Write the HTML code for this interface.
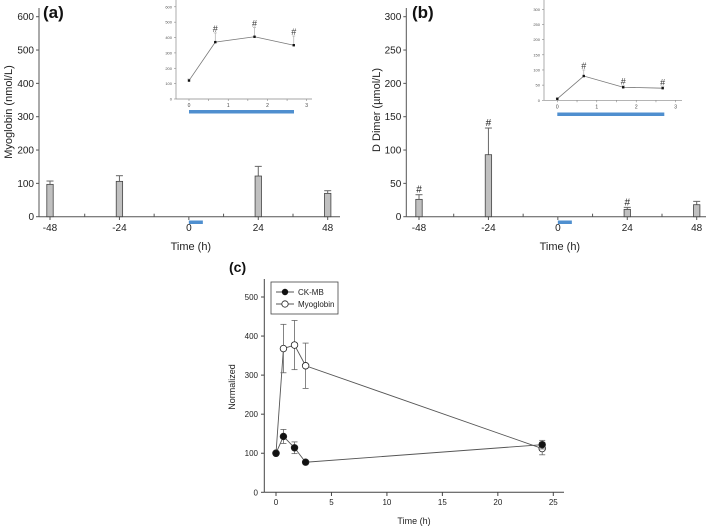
<!DOCTYPE html>
<html><head><meta charset="utf-8"><style>
html,body{margin:0;padding:0;background:#fff}
svg{display:block;font-family:"Liberation Sans",Arial,sans-serif}
</style></head><body>
<svg id="fig" width="708" height="528" viewBox="0 0 708 528" xmlns="http://www.w3.org/2000/svg"></svg>
<script>
// ----- data -----
const barTimes = [-48, -24, 24, 48];
const myoBars = [97, 106, 122, 70];
const myoBarErr = [10, 17, 29, 8];
const ddBars = [26, 93, 11, 18];
const ddBarErr = [7, 40, 3, 5];
const ddHash = [true, true, true, false];
const barTicks = [-48, -24, 0, 24, 48];
const myoYTicks = [0, 100, 200, 300, 400, 500, 600];
const ddYTicks = [0, 50, 100, 150, 200, 250, 300];
const insetTimes = [0, 0.67, 1.67, 2.67];
const insetMyo = [120, 370, 405, 350];
const insetMyoErr = [10, 60, 60, 60];
const insetDD = [5, 80, 43, 40];
const insetDDErr = [2, 20, 5, 5];
const insetHash = [false, true, true, true];
const insetXTicks = [0, 1, 2, 3];
const cTimes = [0, 0.67, 1.67, 2.67, 24];
const ckmb = [100, 143, 114, 77, 122];
const ckmbErr = [0, 18, 15, 4, 11];
const myoNorm = [100, 368, 377, 324, 112];
const myoNormErr = [0, 62, 63, 58, 16];
const cXTicks = [0, 5, 10, 15, 20, 25];
const cYTicks = [0, 100, 200, 300, 400, 500];

const svg = document.getElementById('fig');
const NS = 'http://www.w3.org/2000/svg';
function mk(tag, attrs, parent, text) {
  const e = document.createElementNS(NS, tag);
  for (const k in attrs) e.setAttribute(k, attrs[k]);
  if (text !== undefined) e.textContent = text;
  (parent || svg).appendChild(e);
  return e;
}
function lin(d0, d1, r0, r1) { return v => r0 + (v - d0) * (r1 - r0) / (d1 - d0); }

function barPanel(o) {
  const g = mk('g', {});
  
  
  const x = lin(-48, 48, o.x48, o.x48b), y = lin(0, o.yMax, 216.7, 16.7);
  // axes
  const ax = mk('line', {x1: o.ax0, y1: 216.7, x2: o.ax1, y2: 216.7, stroke: '#555', 'stroke-width': 1}, g);
   
  const ay = mk('line', {x1: o.ax0, y1: 216.7, x2: o.ax0, y2: 8, stroke: '#555', 'stroke-width': 1}, g);
   
  for (let t = -48; t <= 48; t += 12) {
    const major = barTicks.includes(t);
    mk('line', {x1: x(t), y1: 216.7, x2: x(t), y2: major ? 220 : 213.7, stroke: '#555'}, g);
  }
  barTicks.forEach(t => {
    const tl = mk('text', {x: x(t), y: 231, 'font-size': 10, 'text-anchor': 'middle', fill: '#222'}, g, String(t));
     
  });
  o.yTicks.forEach(t => {
    mk('line', {x1: o.ax0 - 3, y1: y(t), x2: o.ax0, y2: y(t), stroke: '#555'}, g);
    const tl = mk('text', {x: o.ax0 - 5, y: y(t) + 3.5, 'font-size': 10, 'text-anchor': 'end', fill: '#222'}, g, String(t));
     
  });
  o.vals.forEach((v, i) => {
    const cx = x(barTimes[i]);
    const top = y(v + o.err[i]);
    mk('line', {x1: cx, y1: y(v), x2: cx, y2: top, stroke: '#666'}, g);
    mk('line', {x1: cx - 3.5, y1: top, x2: cx + 3.5, y2: top, stroke: '#666'}, g);
    const b = mk('rect', {x: cx - 3.2, y: y(v), width: 6.4, height: 216.7 - y(v), fill: '#c0c0c0', stroke: '#444', 'stroke-width': 0.8}, g);
     
    if (o.hash && o.hash[i]) mk('text', {x: cx, y: top - 2, 'font-size': 10, 'text-anchor': 'middle', fill: '#222'}, g, '#');
  });
  const bl = mk('rect', {x: x(0), y: 220.5, width: 14, height: 3.5, fill: '#4f8fcf'}, g);
   
  const xt = mk('text', {x: x(0) + 2, y: 250, 'font-size': 11, 'text-anchor': 'middle', fill: '#222'}, g, 'Time (h)');
   
  const yt = mk('text', {x: 0, y: 0, 'font-size': 11, 'text-anchor': 'middle', fill: '#222', transform: `translate(${o.ytx},${o.yty}) rotate(-90)`}, g, o.ytitle);
   
  const pl = mk('text', {x: o.lx, y: 18, 'font-size': 17, 'font-weight': 'bold', fill: '#111'}, g, o.label);
   

  // inset
  const ig = mk('g', {}, g);
   
  const ix = lin(0, 3, o.ix0, o.ix3), iy = lin(0, o.yMax, o.iy0, o.iyTop);
  mk('line', {x1: o.iax, y1: o.iy0, x2: o.iax1, y2: o.iy0, stroke: '#888', 'stroke-width': 0.7}, ig);
  mk('line', {x1: o.iax, y1: o.iy0, x2: o.iax, y2: 0, stroke: '#888', 'stroke-width': 0.7}, ig);
  o.yTicks.forEach(t => {
    mk('line', {x1: o.iax - 2, y1: iy(t), x2: o.iax, y2: iy(t), stroke: '#888', 'stroke-width': 0.6}, ig);
    mk('text', {x: o.iax - 4, y: iy(t) + 1.5, 'font-size': 4, 'text-anchor': 'end', fill: '#555'}, ig, String(t));
  });
  for (let t = 0; t <= 3; t += 0.5) mk('line', {x1: ix(t), y1: o.iy0, x2: ix(t), y2: o.iy0 + 2, stroke: '#888', 'stroke-width': 0.6}, ig);
  insetXTicks.forEach(t => mk('text', {x: ix(t), y: o.iy0 + 8, 'font-size': 5, 'text-anchor': 'middle', fill: '#444'}, ig, String(t)));
  mk('polyline', {points: insetTimes.map((t, i) => ix(t) + ',' + iy(o.ivals[i])).join(' '), fill: 'none', stroke: '#777', 'stroke-width': 0.8}, ig);
  o.ivals.forEach((v, i) => {
    const cx = ix(insetTimes[i]), top = iy(v + o.ierr[i]);
    mk('line', {x1: cx, y1: iy(v), x2: cx, y2: top, stroke: '#aaa', 'stroke-width': 0.7}, ig);
    mk('line', {x1: cx - 1.5, y1: top, x2: cx + 1.5, y2: top, stroke: '#aaa', 'stroke-width': 0.7}, ig);
    const p = mk('rect', {x: cx - 1.2, y: iy(v) - 1.2, width: 2.4, height: 2.4, fill: '#111'}, ig);
     
    if (insetHash[i]) mk('text', {x: cx, y: top - 1, 'font-size': 9, 'text-anchor': 'middle', fill: '#333'}, ig, '#');
  });
  mk('rect', {x: o.ix0, y: o.iblueY, width: o.iblueW, height: 3.5, fill: '#4f8fcf'}, ig);
}

barPanel({name: 'panel-a-myoglobin', x48: 50, x48b: 327.7, ax0: 39, ax1: 340, yMax: 600, yTicks: myoYTicks,
  vals: myoBars, err: myoBarErr, ytitle: 'Myoglobin (nmol/L)', ytx: 12, yty: 112, label: '(a)', lx: 43,
  ix0: 189, ix3: 306.7, iax: 176, iax1: 312, iy0: 99, iyTop: 6.8, ivals: insetMyo, ierr: insetMyoErr, iblueY: 110, iblueW: 105});
barPanel({name: 'panel-b-d-dimer', x48: 419, x48b: 696.7, ax0: 406.3, ax1: 706, yMax: 300, yTicks: ddYTicks,
  vals: ddBars, err: ddBarErr, hash: ddHash, ytitle: 'D Dimer (\u00b5mol/L)', ytx: 380, yty: 110, label: '(b)', lx: 412,
  ix0: 557.3, ix3: 675.7, iax: 544, iax1: 682, iy0: 100.3, iyTop: 9.3, ivals: insetDD, ierr: insetDDErr, iblueY: 112.5, iblueW: 107});

// ----- panel c -----
(function () {
  const g = mk('g', {});
  
  
  const x = lin(0, 25, 276, 553.3), y = lin(0, 500, 492.3, 297);
  mk('line', {x1: 264.3, y1: 492.3, x2: 564, y2: 492.3, stroke: '#444'}, g);
  mk('line', {x1: 264.3, y1: 492.3, x2: 264.3, y2: 279, stroke: '#444'}, g);
  cXTicks.forEach(t => {
    mk('line', {x1: x(t), y1: 492.3, x2: x(t), y2: 496, stroke: '#444'}, g);
    mk('text', {x: x(t), y: 505, 'font-size': 8, 'text-anchor': 'middle', fill: '#222'}, g, String(t));
  });
  cYTicks.forEach(t => {
    mk('line', {x1: 261, y1: y(t), x2: 264.3, y2: y(t), stroke: '#444'}, g);
    mk('text', {x: 258, y: y(t) + 3, 'font-size': 8, 'text-anchor': 'end', fill: '#222'}, g, String(t));
  });
  const xt = mk('text', {x: 414, y: 524, 'font-size': 9, 'text-anchor': 'middle', fill: '#222'}, g, 'Time (h)');
   
  const yt = mk('text', {x: 0, y: 0, 'font-size': 9, 'text-anchor': 'middle', fill: '#222', transform: 'translate(235,387) rotate(-90)'}, g, 'Normalized');
   
  const pl = mk('text', {x: 229, y: 272, 'font-size': 14, 'font-weight': 'bold', fill: '#111'}, g, '(c)');
   

  function series(vals, err, filled, name) {
    const sg = mk('g', {}, g);
     
    mk('polyline', {points: cTimes.map((t, i) => x(t) + ',' + y(vals[i])).join(' '), fill: 'none', stroke: '#555', 'stroke-width': 0.9}, sg);
    vals.forEach((v, i) => {
      if (err[i] > 0) {
        const cx = x(cTimes[i]);
        mk('line', {x1: cx, y1: y(v - err[i]), x2: cx, y2: y(v + err[i]), stroke: '#666', 'stroke-width': 0.8}, sg);
        [v - err[i], v + err[i]].forEach(e => mk('line', {x1: cx - 3, y1: y(e), x2: cx + 3, y2: y(e), stroke: '#666', 'stroke-width': 0.8}, sg));
      }
    });
    vals.forEach((v, i) => {
      const p = mk('circle', {cx: x(cTimes[i]), cy: y(v), r: 3.3, fill: filled ? '#111' : '#fff', stroke: '#222', 'stroke-width': 0.8}, sg);
       
    });
  }
  series(myoNorm, myoNormErr, false, 'myoglobin-series');
  series(ckmb, ckmbErr, true, 'ckmb-series');

  const lg = mk('g', {}, g);
   
  mk('rect', {x: 271, y: 282, width: 67, height: 32, fill: '#fff', stroke: '#444', 'stroke-width': 0.8}, lg);
  mk('line', {x1: 276, y1: 292, x2: 294, y2: 292, stroke: '#555'}, lg);
  mk('circle', {cx: 285, cy: 292, r: 3.2, fill: '#111'}, lg);
  const l1 = mk('text', {x: 298, y: 295, 'font-size': 8, fill: '#222'}, lg, 'CK-MB');
   
  mk('line', {x1: 276, y1: 304, x2: 294, y2: 304, stroke: '#555'}, lg);
  mk('circle', {cx: 285, cy: 304, r: 3.2, fill: '#fff', stroke: '#222', 'stroke-width': 0.8}, lg);
  const l2 = mk('text', {x: 298, y: 307, 'font-size': 8, fill: '#222'}, lg, 'Myoglobin');
   
})();
</script>
</body></html>
